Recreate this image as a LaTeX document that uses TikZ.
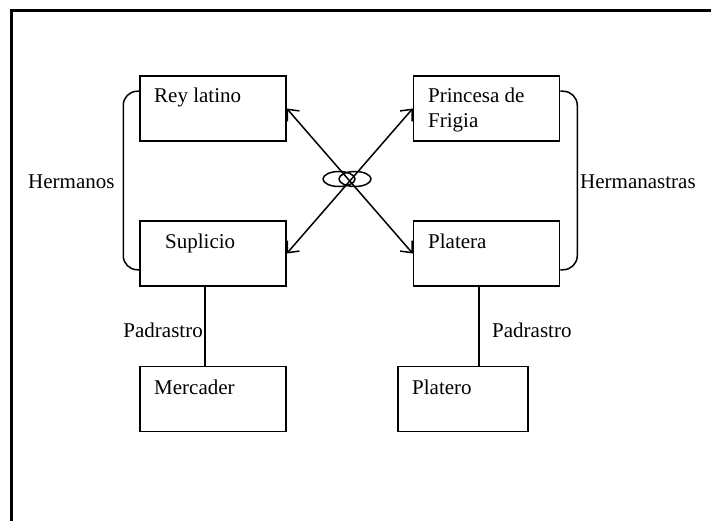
\documentclass[tikz,border=0pt]{standalone}
\usepackage{fontspec}
\setmainfont{Liberation Serif}
\usetikzlibrary{arrows.meta,shapes.geometric}
\begin{document}
\begin{tikzpicture}[x=1pt,y=-1pt,
  box/.style={draw,line width=1.5pt,minimum width=146pt,minimum height=65pt,inner sep=0pt},
  lbl/.style={inner sep=0pt,font=\fontsize{21pt}{25pt}\selectfont},
  link/.style={line width=1.5pt},
  rel/.style={line width=1.5pt,{Straight Barb[length=9pt,width=16pt]}-{Straight Barb[length=9pt,width=16pt]}},
  bracket/.style={line width=1.5pt,rounded corners=14pt},
  ring/.style={draw,ellipse,line width=1.5pt,minimum width=32pt,minimum height=15pt,inner sep=0pt}]
\useasboundingbox (0,0) rectangle (711,521);
% outer frame (open at right and bottom)
\coordinate (fbl) at (11,521);
\coordinate (ftl) at (11,11);
\coordinate (ftr) at (711,11);
\draw[line width=3pt] (fbl) -- (ftl) -- (ftr);

% boxes
\node[box] (rey) at (213,108.5) {};
\node[box] (sup) at (213,253.5) {};
\node[box] (pri) at (486.5,108.5) {};
\node[box] (pla) at (486.5,253.5) {};
\node[box,minimum width=146pt] (mer) at (213,399) {};
\node[box,minimum width=130pt] (plo) at (463,399) {};

% box texts
\node[lbl,anchor=base west] (reyt) at (154,103) {Rey latino};
\node[lbl,anchor=base west] (supt) at (165,248) {Suplicio};
\node[lbl,anchor=base west] (prit1) at (428,103) {Princesa de};
\node[lbl,anchor=base west] (prit2) at (428,128) {Frigia};
\node[lbl,anchor=base west] (plat) at (428,248) {Platera};
\node[lbl,anchor=base west] (mert) at (154,394) {Mercader};
\node[lbl,anchor=base west] (plot) at (412,394) {Platero};

% brackets
\draw[bracket] ([yshift=-16pt]rey.north west) -- ++(-16,0) |- ([yshift=17pt]sup.south west);
\draw[bracket] ([yshift=-16pt]pri.north east) -- ++(17,0) |- ([yshift=17pt]pla.south east);
\node[lbl,anchor=base west] (herm) at (28,189) {Hermanos};
\node[lbl,anchor=base west] (herma) at (580,189) {Hermanastras};

% crossing relations
\draw[rel] (rey.east) -- (pla.west);
\draw[rel] (sup.east) -- (pri.west);
\node[ring] (r1) at (339,179) {};
\node[ring] (r2) at (355,179) {};

% step-parent links
\draw[link] (sup.south -| 205,0) -- (mer.north -| 205,0);
\draw[link] (pla.south -| 479,0) -- (plo.north -| 479,0);
\node[lbl,anchor=base east] (pad1) at (203,337) {Padrastro};
\node[lbl,anchor=base west] (pad2) at (492,337) {Padrastro};
\end{tikzpicture}
\end{document}
